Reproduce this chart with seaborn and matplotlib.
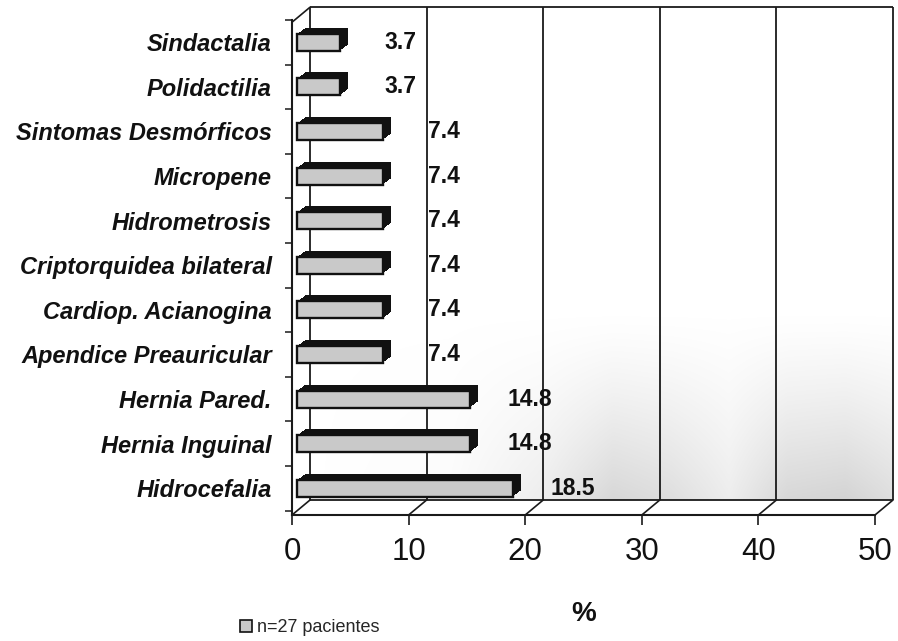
import matplotlib
matplotlib.use("Agg")
import matplotlib.pyplot as plt
from matplotlib.transforms import offset_copy
from matplotlib.patches import Patch
import seaborn as sns
import pandas as pd
import numpy as np

# Malformaciones asociadas (% de pacientes)
categorias = [
    "Sindactalia",
    "Polidactilia",
    "Sintomas Desmórficos",
    "Micropene",
    "Hidrometrosis",
    "Criptorquidea bilateral",
    "Cardiop. Acianogina",
    "Apendice Preauricular",
    "Hernia Pared.",
    "Hernia Inguinal",
    "Hidrocefalia",
]
porcentajes = [3.7, 3.7, 7.4, 7.4, 7.4, 7.4, 7.4, 7.4, 14.8, 14.8, 18.5]
xticks = [0, 10, 20, 30, 40, 50]
leyenda = "n=27 pacientes"

sns.set_theme(style="white")
plt.rcParams["font.family"] = ["Liberation Sans", "DejaVu Sans"]

W, H = 898, 641
fig = plt.figure(figsize=(W / 100, H / 100), dpi=100)
ax = fig.add_axes([292 / W, 1 - 515 / H, (875 - 292) / W, (515 - 20) / H])

df = pd.DataFrame({"categoria": categorias, "porcentaje": porcentajes})

y_top, y_bot = -0.45, 10.6
bar_w = 0.38
face_dx = 5
depth = 8
ink = "#1a1a1a"

# back wall of the 3-D box, shifted up and to the right
back = offset_copy(ax.transData, fig=fig, x=18, y=15, units="dots")

# soft shading on the lower part of the back wall
rows = np.linspace(0, 1, 120)[:, None]
cols = np.linspace(0, 50, 300)[None, :]
col_profile = np.interp(cols, [0, 12, 20, 26, 31, 36, 41, 46, 50],
                        [0.0, 0.05, 0.25, 0.55, 0.45, 0.25, 0.55, 0.6, 0.45])
row_profile = np.clip((rows - 0.62) / 0.38, 0, 1) ** 1.3
shade = np.zeros((120, 300, 4))
shade[..., :3] = 0.72
shade[..., 3] = row_profile * col_profile
ax.imshow(shade, extent=(0, 50, y_bot, y_top), origin="upper", aspect="auto",
          transform=back, zorder=0.2, interpolation="bilinear", clip_on=False)

line_kw = dict(color=ink, lw=1.3, clip_on=False, zorder=0.5, solid_capstyle="butt")
for x in xticks:
    ax.plot([x, x], [y_bot, y_top], transform=back, **line_kw)
ax.plot([0, 50], [y_top, y_top], transform=back, **line_kw)
ax.plot([0, 50], [y_bot, y_bot], transform=back, **line_kw)

# floor / wall edges joining front and back
edge_kw = dict(arrowstyle="-", shrinkA=0, shrinkB=0, lw=1.2, color=ink)
for x in xticks:
    ax.annotate("", xy=(x, y_bot), xycoords="data", xytext=(18, 15),
                textcoords="offset pixels", arrowprops=edge_kw,
                annotation_clip=False)
ax.annotate("", xy=(0, y_top), xycoords="data", xytext=(18, 15),
            textcoords="offset pixels", arrowprops=edge_kw,
            annotation_clip=False)

# extruded dark sides of each bar
for k in range(depth, 0, -1):
    start = len(ax.patches)
    sns.barplot(data=df, y="categoria", x="porcentaje", orient="h",
                color="#111111", saturation=1, width=bar_w, linewidth=0, ax=ax)
    tr = offset_copy(ax.transData, fig=fig, x=face_dx + k, y=0.75 * k, units="dots")
    for p in ax.patches[start:]:
        p.set_transform(tr)
        p.set_clip_on(False)
        p.set_zorder(2)

# front faces
start = len(ax.patches)
sns.barplot(data=df, y="categoria", x="porcentaje", orient="h",
            color="#c9c9c9", saturation=1, width=bar_w,
            edgecolor="#111111", linewidth=1.7, ax=ax)
tr = offset_copy(ax.transData, fig=fig, x=face_dx, y=0, units="dots")
for p in ax.patches[start:]:
    p.set_transform(tr)
    p.set_clip_on(False)
    p.set_zorder(3)

# value labels
for i, v in enumerate(porcentajes):
    ax.text(v + 5.6, i, f"{v:.1f}", ha="center", va="center",
            fontsize=16.5, fontweight="bold", color="#111111", zorder=4)

ax.set_xlim(0, 50)
ax.set_ylim(y_bot, y_top)
ax.set_xticks(xticks)
ax.set_xticklabels([str(x) for x in xticks])
ax.tick_params(axis="x", direction="out", length=7, width=1.2, labelsize=22.5,
               pad=9, bottom=True, color=ink, labelcolor="#111111")
ax.set_yticks(range(len(categorias)))
ax.set_yticklabels(categorias, fontsize=17, fontweight="bold", style="italic",
                   color="#111111")
ax.set_yticks(np.arange(-0.5, len(categorias), 1.0), minor=True)
ax.tick_params(axis="y", which="major", length=0, pad=14.5, left=False)
ax.tick_params(axis="y", which="minor", direction="out", length=5, width=1.1,
               left=True, color=ink)

for side in ("top", "right"):
    ax.spines[side].set_visible(False)
for side in ("left", "bottom"):
    ax.spines[side].set_color(ink)
    ax.spines[side].set_linewidth(1.5)
ax.set_facecolor("none")

ax.set_ylabel("")
ax.set_xlabel("%", fontsize=20, fontweight="bold", labelpad=24, color="#111111")

ax.legend(handles=[Patch(facecolor="#c9c9c9", edgecolor="#111111", linewidth=1.2)],
          labels=[leyenda], loc="center left",
          bbox_to_anchor=(224 / W, 1 - 628 / H), bbox_transform=fig.transFigure,
          frameon=False, handlelength=0.65, handleheight=0.65, handletextpad=0.3,
          prop={"size": 13})

fig.savefig("out.png", dpi=100, facecolor="white")
